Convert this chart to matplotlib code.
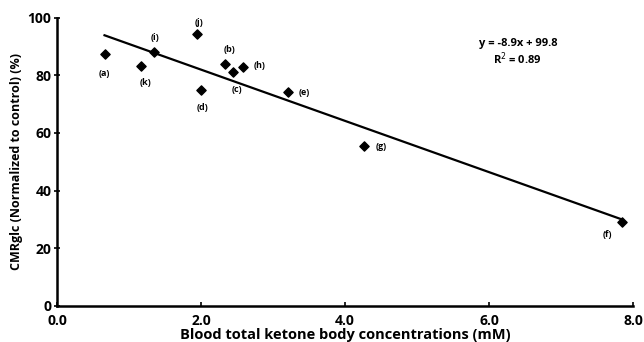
import numpy as np
import matplotlib.pyplot as plt

plt.rcParams['font.family'] = ['Open Sans', 'DejaVu Sans']

labels = ['(a)', '(k)', '(i)', '(j)', '(d)', '(b)', '(c)', '(h)', '(e)', '(g)', '(f)']
ketone = [0.66, 1.16, 1.35, 1.94, 2.00, 2.34, 2.45, 2.59, 3.21, 4.27, 7.84]
cmrglc = [87.3, 83.3, 88.0, 94.2, 74.9, 84.0, 81.1, 83.0, 74.3, 55.6, 29.0]
slope, intercept = -8.9, 99.8

# label offsets in pixels
offsets = {'(a)': (0, -19), '(k)': (5, -17), '(i)': (1, 15), '(j)': (2, 12),
           '(d)': (1, -17), '(b)': (4, 14), '(c)': (4, -17), '(h)': (16, 1),
           '(e)': (16, -1), '(g)': (17, -1), '(f)': (-14, -12)}

fig = plt.figure(figsize=(6.44, 3.42), dpi=100)
ax = fig.add_axes([0.0885, 0.106, 0.8945, 0.842])

ax.scatter(ketone, cmrglc, marker='D', s=22, color='black', zorder=3)
xf = np.array([min(ketone), max(ketone)])
ax.plot(xf, slope * xf + intercept, color='black', lw=1.6)

for lab, x, y in zip(labels, ketone, cmrglc):
    dx, dy = offsets[lab]
    ax.annotate(lab, (x, y), xytext=(dx, dy), textcoords='offset pixels',
                ha='center', va='center', fontsize=6.5, fontweight='bold')

ax.text(6.4, 91.2, 'y = -8.9x + 99.8', ha='center', va='center', fontsize=8, fontweight='bold')
ax.text(6.4, 85.7, 'R$^{2}$ = 0.89', ha='center', va='center', fontsize=8, fontweight='bold')

ax.set_xlim(0, 8)
ax.set_ylim(0, 100)
ax.set_xticks([0, 2, 4, 6, 8])
ax.set_xticklabels(['0.0', '2.0', '4.0', '6.0', '8.0'])
ax.set_yticks([0, 20, 40, 60, 80, 100])
for s in ['top', 'right']:
    ax.spines[s].set_visible(False)
for s in ['left', 'bottom']:
    ax.spines[s].set_linewidth(1.8)
ax.tick_params(axis='x', direction='in', length=3, width=1.2, pad=6, labelsize=10)
ax.tick_params(axis='y', direction='inout', length=4, width=1.2, pad=2, labelsize=10)
for t in ax.get_xticklabels() + ax.get_yticklabels():
    t.set_fontweight('bold')

ax.set_xlabel('Blood total ketone body concentrations (mM)', fontsize=10.5, fontweight='bold', labelpad=0)
ax.set_ylabel('CMRglc (Normalized to control) (%)', fontsize=9, fontweight='bold', labelpad=3)

fig.savefig('out.png', dpi=100)
